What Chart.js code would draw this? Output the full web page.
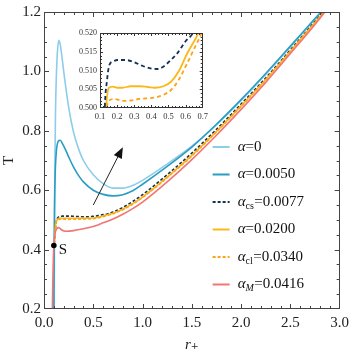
<!DOCTYPE html>
<html>
<head>
<meta charset="utf-8">
<script src="https://cdn.jsdelivr.net/npm/chart.js@4"></script>
<style>
  body { margin: 0; background: #fff; }
  #wrap { position: relative; width: 354px; height: 354px; }
  #inset-chart { position: absolute; left: 70px; top: 25px; }
</style>
</head>
<body>
<div id="wrap">
  <canvas id="t-chart" width="354" height="354"></canvas>
  <canvas id="inset-chart" width="142" height="98"></canvas>
</div>
<script>
// series labels (α values)
const seriesLabels = ["α=0", "α=0.0050", "α_cs=0.0077", "α=0.0200", "α_cl=0.0340", "α_M=0.0416"];

// r+ and T, one pair of arrays per curve
const rA0 = [0.104, 0.107, 0.111, 0.117, 0.125, 0.135, 0.15, 0.165, 0.18, 0.2, 0.25, 0.3, 0.35, 0.4, 0.5, 0.6, 0.7, 0.8, 0.9, 1.0, 1.25, 1.5, 1.75, 2.0, 2.25, 2.5, 2.75, 2.815];
const tA0 = [0.2, 0.5, 0.7, 0.87, 0.98, 1.06, 1.105, 1.09, 1.055, 1.0, 0.88, 0.795, 0.74, 0.70, 0.652, 0.622, 0.607, 0.607, 0.616, 0.633, 0.688, 0.748, 0.82, 0.902, 0.99, 1.082, 1.176, 1.2];

const rA1 = [0.1, 0.103, 0.107, 0.113, 0.125, 0.145, 0.165, 0.19, 0.22, 0.26, 0.3, 0.35, 0.4, 0.5, 0.6, 0.7, 0.8, 0.9, 1.0, 1.25, 1.5, 1.75, 2.0, 2.25, 2.5, 2.75, 2.81];
const tA1 = [0.2, 0.4, 0.55, 0.65, 0.73, 0.765, 0.768, 0.755, 0.735, 0.705, 0.678, 0.65, 0.628, 0.6, 0.586, 0.581, 0.585, 0.598, 0.62, 0.68, 0.745, 0.822, 0.905, 0.993, 1.085, 1.178, 1.2];

const rCs = [0.104, 0.118, 0.128, 0.14, 0.155, 0.18, 0.2, 0.25, 0.3, 0.35, 0.4, 0.43, 0.47, 0.5, 0.55, 0.6, 0.643, 0.7, 0.8, 0.9, 1.0, 1.25, 1.5, 1.75, 2.0, 2.25, 2.5, 2.75, 2.835];
const tCs = [0.42, 0.48, 0.5, 0.507, 0.5115, 0.5125, 0.5128, 0.5128, 0.5122, 0.5112, 0.5105, 0.5104, 0.511, 0.5122, 0.5145, 0.5178, 0.52, 0.5265, 0.542, 0.562, 0.585, 0.652, 0.725, 0.805, 0.89, 0.978, 1.072, 1.168, 1.2];

const rA2 = [0.104, 0.12, 0.134, 0.15, 0.175, 0.2, 0.23, 0.28, 0.33, 0.38, 0.42, 0.47, 0.515, 0.56, 0.61, 0.675, 0.8, 0.9, 1.0, 1.25, 1.5, 1.75, 2.0, 2.25, 2.5, 2.75, 2.84];
const tA2 = [0.42, 0.49, 0.5, 0.5053, 0.5057, 0.5054, 0.5054, 0.5058, 0.5058, 0.5056, 0.5054, 0.5058, 0.507, 0.5098, 0.5146, 0.52, 0.536, 0.555, 0.577, 0.644, 0.717, 0.798, 0.884, 0.973, 1.068, 1.165, 1.2];

const rCl = [0.104, 0.122, 0.138, 0.157, 0.185, 0.231, 0.28, 0.326, 0.38, 0.42, 0.47, 0.515, 0.56, 0.609, 0.65, 0.694, 0.8, 0.9, 1.0, 1.25, 1.5, 1.75, 2.0, 2.25, 2.5, 2.75, 2.845];
const tCl = [0.42, 0.49, 0.5, 0.5021, 0.5024, 0.5019, 0.502, 0.5024, 0.5026, 0.5028, 0.5035, 0.5048, 0.5075, 0.5119, 0.5158, 0.52, 0.534, 0.553, 0.575, 0.642, 0.715, 0.796, 0.882, 0.971, 1.066, 1.163, 1.2];

const rM = [0.085, 0.09, 0.095, 0.1, 0.11, 0.125, 0.15, 0.18, 0.22, 0.3, 0.4, 0.5, 0.6, 0.7, 0.8, 0.9, 1.0, 1.25, 1.5, 1.75, 2.0, 2.25, 2.5, 2.75, 2.85];
const tM = [0.2, 0.3, 0.37, 0.414, 0.45, 0.468, 0.474, 0.466, 0.462, 0.464, 0.47, 0.478, 0.49, 0.503, 0.519, 0.538, 0.56, 0.628, 0.703, 0.785, 0.872, 0.963, 1.06, 1.158, 1.2];

// point S and the arrow toward the inset
const pointS = { r: 0.1, t: 0.414, label: "S" };
const arrowFrom = [0.5, 0.55];
const arrowTo = [0.8, 0.745];

const colors = ["#8ecdea", "#2a9dc2", "#16344f", "#fbb81a", "#ffa31a", "#f27474"];
const dashes = [[], [], [3, 2], [], [3, 2], []];
const seriesR = [rA0, rA1, rCs, rA2, rCl, rM];
const seriesT = [tA0, tA1, tCs, tA2, tCl, tM];

const SERIF = '"Liberation Serif", "DejaVu Serif", serif';
Chart.defaults.font.family = SERIF;
Chart.defaults.color = "#222";

function toPoints(rs, ts) {
  return rs.map((r, i) => ({ x: r, y: ts[i] }));
}

// frame on all four sides with inward major and minor ticks
function frameTicks(cfg) {
  return {
    id: "frameTicks",
    afterDraw(chart) {
      const { ctx, chartArea: a, scales } = chart;
      ctx.save();
      ctx.strokeStyle = cfg.color;
      ctx.lineWidth = 1;
      ctx.strokeRect(Math.round(a.left) + 0.5, Math.round(a.top) + 0.5, Math.round(a.width) - 1, Math.round(a.height) - 1);
      ctx.beginPath();
      ["x", "y"].forEach((id) => {
        const s = scales[id];
        const step = cfg[id].minor, major = cfg[id].major;
        const n = Math.round((s.max - s.min) / step);
        for (let i = 1; i < n; i++) {
          const v = s.min + i * step;
          const isMajor = Math.abs(v / major - Math.round(v / major)) < 1e-6;
          const len = isMajor ? cfg.majorLen : cfg.minorLen;
          const p = Math.round(s.getPixelForValue(v)) + 0.5;
          if (id === "x") {
            ctx.moveTo(p, a.bottom); ctx.lineTo(p, a.bottom - len);
            ctx.moveTo(p, a.top); ctx.lineTo(p, a.top + len);
          } else {
            ctx.moveTo(a.left, p); ctx.lineTo(a.left + len, p);
            ctx.moveTo(a.right, p); ctx.lineTo(a.right - len, p);
          }
        }
      });
      ctx.stroke();
      ctx.restore();
    },
  };
}

function drawLegendLabel(ctx, label, x, y) {
  const m = label.match(/^α(?:_(\w+))?(=.*)$/);
  ctx.font = "italic 15px " + SERIF;
  ctx.fillText("α", x, y);
  x += ctx.measureText("α").width;
  if (m[1]) {
    ctx.font = (m[1] === "M" ? "italic " : "") + "10px " + SERIF;
    ctx.fillText(m[1], x, y + 4);
    x += ctx.measureText(m[1]).width + 0.5;
  }
  ctx.font = "15px " + SERIF;
  ctx.fillText(m[2], x, y);
}

const extras = {
  id: "extras",
  afterDatasetsDraw(chart) {
    const { ctx, chartArea: a, scales: { x, y } } = chart;
    ctx.save();
    // arrow
    const x0 = x.getPixelForValue(arrowFrom[0]), y0 = y.getPixelForValue(arrowFrom[1]);
    const x1 = x.getPixelForValue(arrowTo[0]), y1 = y.getPixelForValue(arrowTo[1]);
    const ang = Math.atan2(y1 - y0, x1 - x0);
    ctx.strokeStyle = "#222";
    ctx.fillStyle = "#111";
    ctx.lineWidth = 1;
    ctx.beginPath();
    ctx.moveTo(x0, y0);
    ctx.lineTo(x1 - 8 * Math.cos(ang), y1 - 8 * Math.sin(ang));
    ctx.stroke();
    ctx.beginPath();
    ctx.moveTo(x1, y1);
    ctx.lineTo(x1 - 11 * Math.cos(ang) + 4.5 * Math.sin(ang), y1 - 11 * Math.sin(ang) - 4.5 * Math.cos(ang));
    ctx.lineTo(x1 - 11 * Math.cos(ang) - 4.5 * Math.sin(ang), y1 - 11 * Math.sin(ang) + 4.5 * Math.cos(ang));
    ctx.closePath();
    ctx.fill();
    // S label
    ctx.font = "15px " + SERIF;
    ctx.textBaseline = "middle";
    ctx.fillStyle = "#111";
    ctx.fillText(pointS.label, x.getPixelForValue(pointS.r) + 5, y.getPixelForValue(pointS.t) + 5);
    // legend
    chart.data.datasets.slice(0, seriesLabels.length).forEach((ds, i) => {
      const ly = a.top + 135 + i * 27.5;
      const lx = a.right - 127;
      ctx.strokeStyle = ds.borderColor;
      ctx.lineWidth = 2;
      ctx.setLineDash(ds.borderDash);
      ctx.beginPath();
      ctx.moveTo(lx, ly);
      ctx.lineTo(lx + 17, ly);
      ctx.stroke();
      ctx.setLineDash([]);
      ctx.fillStyle = "#111";
      drawLegendLabel(ctx, ds.label, lx + 25, ly);
    });
    ctx.restore();
  },
};

const mainDatasets = seriesLabels.map((label, i) => ({
  label: label,
  data: toPoints(seriesR[i], seriesT[i]),
  borderColor: colors[i],
  borderWidth: 1.6,
  borderDash: dashes[i],
  pointRadius: 0,
  fill: false,
  cubicInterpolationMode: "monotone",
  order: seriesLabels.length - i,
}));
mainDatasets.push({
  label: "S",
  data: [{ x: pointS.r, y: pointS.t }],
  type: "scatter",
  pointRadius: 2.8,
  pointBackgroundColor: "#000",
  pointBorderWidth: 0,
  order: -1,
});

new Chart(document.getElementById("t-chart"), {
  type: "line",
  data: { datasets: mainDatasets },
  options: {
    responsive: false,
    animation: false,
    layout: { padding: { top: 10, right: 10, left: 0, bottom: 0 } },
    plugins: { legend: { display: false }, tooltip: { enabled: false } },
    scales: {
      x: {
        type: "linear",
        min: 0,
        max: 3,
        grid: { display: false, drawTicks: false },
        border: { display: false },
        ticks: { stepSize: 0.5, padding: 5, font: { size: 15 }, callback: (v) => v.toFixed(1) },
        title: { display: true, text: "r₊", font: { size: 15, style: "italic" }, padding: { top: 2, bottom: 0 } },
        afterFit: (s) => { s.height = 45; },
      },
      y: {
        min: 0.2,
        max: 1.2,
        grid: { display: false, drawTicks: false },
        border: { display: false },
        ticks: { stepSize: 0.2, padding: 3, font: { size: 15 }, callback: (v) => v.toFixed(1) },
        title: { display: true, text: "T", font: { size: 15 }, padding: 0 },
        afterFit: (s) => { s.width = 44; },
      },
    },
  },
  plugins: [frameTicks({ color: "#444", majorLen: 5, minorLen: 3, x: { major: 0.5, minor: 0.1 }, y: { major: 0.2, minor: 0.05 } }), extras],
});

// inset: zoom on the plateau near T = 0.5
const insetIdx = [2, 3, 4];
const insetFill = {
  id: "insetFill",
  beforeDatasetsDraw(chart) {
    const { ctx, chartArea: a } = chart;
    ctx.save();
    ctx.fillStyle = "#fff";
    ctx.fillRect(a.left, a.top, a.width, a.height);
    ctx.restore();
  },
};

new Chart(document.getElementById("inset-chart"), {
  type: "line",
  data: {
    datasets: insetIdx.map((i) => ({
      label: seriesLabels[i],
      data: toPoints(seriesR[i], seriesT[i]),
      borderColor: colors[i],
      borderWidth: 1.8,
      borderDash: dashes[i].length ? [4, 3] : [],
      pointRadius: 0,
      fill: false,
      cubicInterpolationMode: "monotone",
    })),
  },
  options: {
    responsive: false,
    animation: false,
    layout: { padding: { top: 8, right: 6, left: 0, bottom: 0 } },
    plugins: { legend: { display: false }, tooltip: { enabled: false } },
    scales: {
      x: {
        type: "linear",
        min: 0.1,
        max: 0.7,
        grid: { display: false, drawTicks: false },
        border: { display: false },
        ticks: { stepSize: 0.1, padding: 4, font: { size: 8.5 }, color: "#333", maxRotation: 0, autoSkip: false, callback: (v) => v.toFixed(1) },
        afterFit: (s) => { s.height = 15; },
      },
      y: {
        min: 0.5,
        max: 0.52,
        grid: { display: false, drawTicks: false },
        border: { display: false },
        ticks: { stepSize: 0.005, padding: 3, font: { size: 8 }, color: "#333", callback: (v) => v.toFixed(3) },
        afterFit: (s) => { s.width = 30; },
      },
    },
  },
  plugins: [insetFill, frameTicks({ color: "#333", majorLen: 3, minorLen: 2, x: { major: 0.1, minor: 0.02 }, y: { major: 0.005, minor: 0.001 } })],
});
</script>
</body>
</html>
